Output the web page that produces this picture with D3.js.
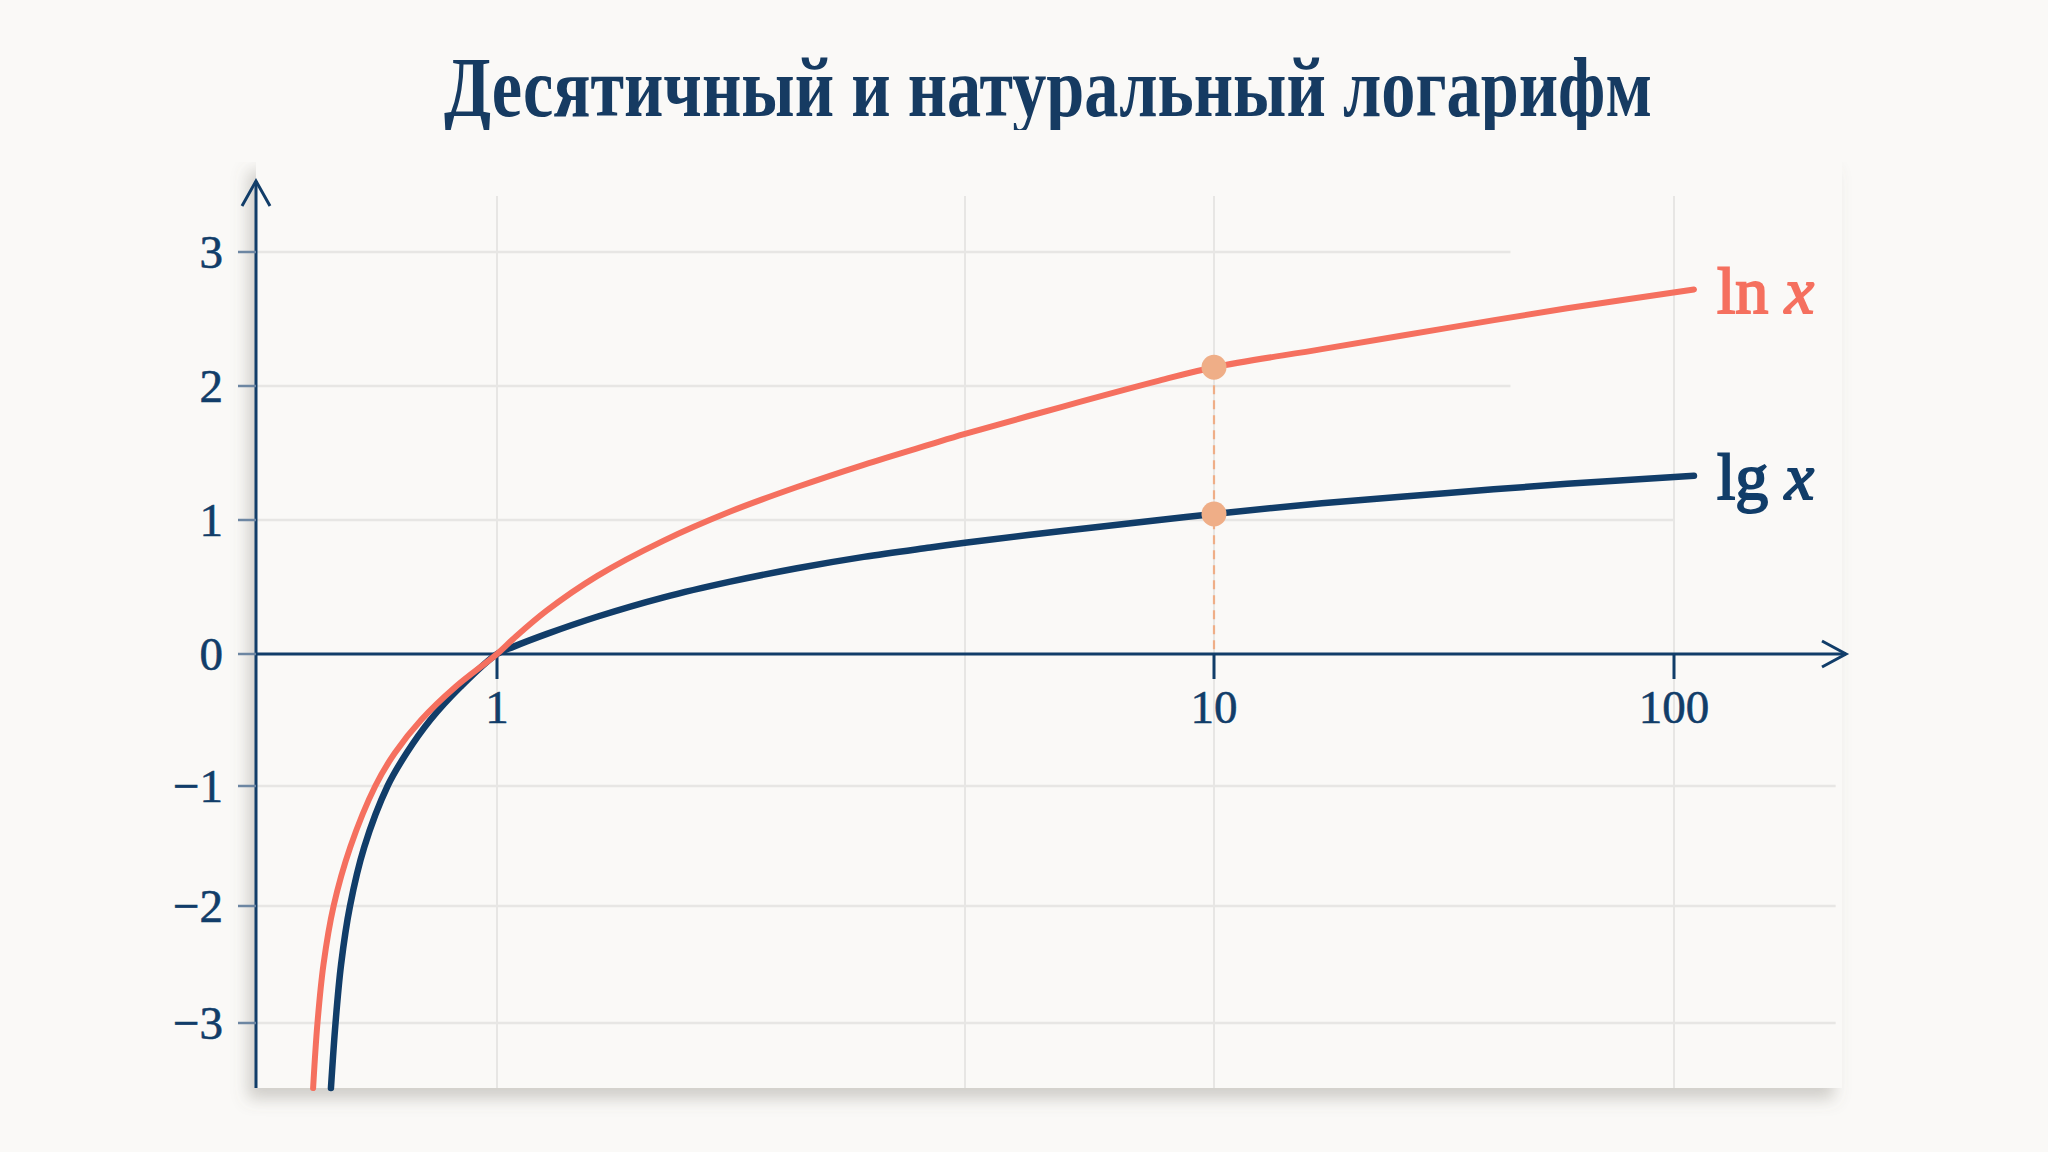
<!DOCTYPE html>
<html>
<head>
<meta charset="utf-8">
<script src="https://cdn.jsdelivr.net/npm/d3@7"></script>
<style>
    body { margin: 0; background: #faf9f7; }
    svg { display: block; }
</style>
</head>
<body>
<svg id="chart"></svg>
<script>
// Title and tick labels
const titleText = "Десятичный и натуральный логарифм";
const yTicks = [3, 2, 1, 0, -1, -2, -3];
const xTicks = [1, 10, 100];
const xGrid = [1, 5, 10, 100];

// ln x curve
const lnX = [0.237, 0.255, 0.280, 0.322, 0.391, 0.495, 0.576, 0.685, 0.827, 1,
             1.143, 1.427, 1.855, 2.425, 2.994, 3.564, 4.134, 4.703, 5, 6.95, 8.9, 10,
             31.1, 55.2, 79.1, 102.9];
const lnY = [-3.55, -3, -2.5, -2, -1.51, -1, -0.75, -0.5, -0.25, 0,
             0.116, 0.325, 0.581, 0.846, 1.063, 1.246, 1.412, 1.564, 1.642, 1.845, 2.04, 2.14,
             2.275, 2.43, 2.58, 2.72];

// lg x curve
const lgX = [0.311, 0.330, 0.353, 0.390, 0.449, 0.546, 0.625, 0.723, 0.848, 1,
             1.143, 1.427, 1.855, 2.425, 2.994, 3.564, 4.134, 4.703, 5, 6.95, 8.9, 10,
             31.1, 55.2, 79.1, 102.9];
const lgY = [-3.55, -3, -2.5, -2, -1.51, -1, -0.75, -0.5, -0.25, 0,
             0.055, 0.15, 0.278, 0.423, 0.54, 0.64, 0.725, 0.795, 0.83, 0.918, 1.0, 1.045,
             1.125, 1.20, 1.27, 1.33];

const markerX = 10;

const WIDTH = 2048, HEIGHT = 1152;
const NAVY = "#113d69", CORAL = "#f5705f", PEACH = "#efae87", GRID = "#e7e6e4";
const BG = "#faf9f7";

const svg = d3.select("#chart").attr("width", WIDTH).attr("height", HEIGHT);

// the axes are stretched unevenly in the original, so both scales are piecewise
const xScale = d3.scaleLinear()
    .domain([0, 1, 5, 10, 100, 125])
    .range([256, 497, 965, 1214, 1674, 1846]);
const yScale = d3.scaleLinear()
    .domain([-3.55, -3, -2, -1, 0, 3])
    .range([1088, 1023, 906, 786, 654, 252]);

const defs = svg.append("defs");
defs.append("filter")
    .attr("id", "panel-shadow")
    .attr("x", "-5%").attr("y", "-5%").attr("width", "110%").attr("height", "115%")
    .append("feDropShadow")
    .attr("dx", -8).attr("dy", 11).attr("stdDeviation", 8)
    .attr("flood-color", "#6f6761").attr("flood-opacity", 0.3);

// Title
svg.append("text")
    .attr("x", 1048)
    .attr("y", 116)
    .attr("text-anchor", "middle")
    .attr("textLength", 1208)
    .attr("lengthAdjust", "spacingAndGlyphs")
    .style("font-family", "'Liberation Serif', 'DejaVu Serif', serif")
    .style("font-weight", "bold")
    .style("font-size", "84px")
    .attr("fill", "#163b62")
    .text(titleText);

// Plot card: same colour as the page, only its shadow shows
const x0 = xScale(0), yBottom = yScale(-3.55);
svg.append("rect")
    .attr("x", x0).attr("y", 160)
    .attr("width", 1842 - x0).attr("height", yBottom - 160)
    .attr("fill", BG)
    .attr("filter", "url(#panel-shadow)");
svg.append("rect")
    .attr("x", 180).attr("y", 130).attr("width", 1700).attr("height", 32)
    .attr("fill", BG);

// Grid
const gridGroup = svg.append("g").attr("id", "grid");
gridGroup.selectAll("line.vgrid")
    .data(xGrid)
    .enter()
    .append("line")
    .attr("class", "vgrid")
    .attr("x1", d => xScale(d)).attr("x2", d => xScale(d))
    .attr("y1", 196).attr("y2", yBottom)
    .attr("stroke", GRID).attr("stroke-width", 2);

// upper lines fade out before the curve labels
const gridEnd = d => d >= 2 ? 68 : (d === 1 ? 100 : 123.5);
gridGroup.selectAll("line.hgrid")
    .data(yTicks.filter(d => d !== 0))
    .enter()
    .append("line")
    .attr("class", "hgrid")
    .attr("x1", x0).attr("x2", d => xScale(gridEnd(d)))
    .attr("y1", d => yScale(d)).attr("y2", d => yScale(d))
    .attr("stroke", GRID).attr("stroke-width", 2.5);

// Axes with arrows
const axisGroup = svg.append("g").attr("id", "axes")
    .attr("fill", "none").attr("stroke", NAVY).attr("stroke-width", 3);
const yTop = yScale(3.53), xEnd = xScale(125), y0 = yScale(0);
axisGroup.append("line").attr("x1", x0).attr("x2", x0).attr("y1", yBottom).attr("y2", yTop);
axisGroup.append("path")
    .attr("d", `M${x0 - 14},${yTop + 25}L${x0},${yTop}L${x0 + 14},${yTop + 25}`);
axisGroup.append("line").attr("x1", x0).attr("x2", xEnd).attr("y1", y0).attr("y2", y0);
axisGroup.append("path")
    .attr("d", `M${xEnd - 24},${y0 - 13}L${xEnd},${y0}L${xEnd - 24},${y0 + 13}`);

// Y ticks and labels
const tickFont = "'Liberation Serif', 'DejaVu Serif', serif";
svg.append("g").selectAll("line")
    .data(yTicks)
    .enter()
    .append("line")
    .attr("x1", x0 - 18).attr("x2", x0)
    .attr("y1", d => yScale(d)).attr("y2", d => yScale(d))
    .attr("stroke", "#6d86a2").attr("stroke-width", 2.5);
svg.append("g").selectAll("text")
    .data(yTicks)
    .enter()
    .append("text")
    .attr("x", 223)
    .attr("y", d => yScale(d) + 16)
    .attr("text-anchor", "end")
    .style("font-family", tickFont)
    .style("font-size", "47px")
    .attr("fill", NAVY)
    .attr("stroke", NAVY).attr("stroke-width", 0.6)
    .text(d => d < 0 ? "\u2212" + Math.abs(d) : d);

// X ticks and labels
svg.append("g").selectAll("line")
    .data(xTicks)
    .enter()
    .append("line")
    .attr("x1", d => xScale(d)).attr("x2", d => xScale(d))
    .attr("y1", y0).attr("y2", y0 + 25)
    .attr("stroke", NAVY).attr("stroke-width", 3);
svg.append("g").selectAll("text")
    .data(xTicks)
    .enter()
    .append("text")
    .attr("x", d => xScale(d))
    .attr("y", 723)
    .attr("text-anchor", "middle")
    .style("font-family", tickFont)
    .style("font-size", "47px")
    .attr("fill", NAVY)
    .attr("stroke", NAVY).attr("stroke-width", 0.6)
    .text(d => d);

// Curves
const series = [
    { name: "lg", xs: lgX, ys: lgY, color: NAVY, width: 6.5 },
    { name: "ln", xs: lnX, ys: lnY, color: CORAL, width: 6 }
];
const line = d3.line()
    .x(d => xScale(d[0]))
    .y(d => yScale(d[1]))
    .curve(d3.curveCatmullRom.alpha(0.5));

// dashed guide at x = 10
const lnAtMarker = lnY[lnX.indexOf(markerX)];
const lgAtMarker = lgY[lgX.indexOf(markerX)];
svg.append("line")
    .attr("x1", xScale(markerX)).attr("x2", xScale(markerX))
    .attr("y1", yScale(lnAtMarker) + 18).attr("y2", y0)
    .attr("stroke", PEACH).attr("stroke-width", 2.2)
    .attr("stroke-dasharray", "9 6");

svg.append("g").attr("id", "curves")
    .selectAll("path")
    .data(series)
    .enter()
    .append("path")
    .attr("d", s => line(d3.zip(s.xs, s.ys)))
    .attr("fill", "none")
    .attr("stroke", s => s.color)
    .attr("stroke-width", s => s.width)
    .attr("stroke-linecap", "round");

// Markers at x = 10
svg.append("g").selectAll("circle")
    .data([lnAtMarker, lgAtMarker])
    .enter()
    .append("circle")
    .attr("cx", xScale(markerX))
    .attr("cy", d => yScale(d))
    .attr("r", 12.5)
    .attr("fill", PEACH);

// Curve labels
const labels = svg.append("g").selectAll("text")
    .data(series)
    .enter()
    .append("text")
    .attr("x", s => xScale(s.xs[s.xs.length - 1]) + 23)
    .attr("y", s => yScale(s.ys[s.ys.length - 1]) + 23)
    .style("font-family", tickFont)
    .style("font-size", "66px")
    .attr("fill", s => s.color)
    .attr("stroke", s => s.color)
    .attr("stroke-width", 2);
labels.append("tspan").text(s => s.name + " ");
labels.append("tspan").style("font-style", "italic").text("x");
</script>
</body>
</html>
